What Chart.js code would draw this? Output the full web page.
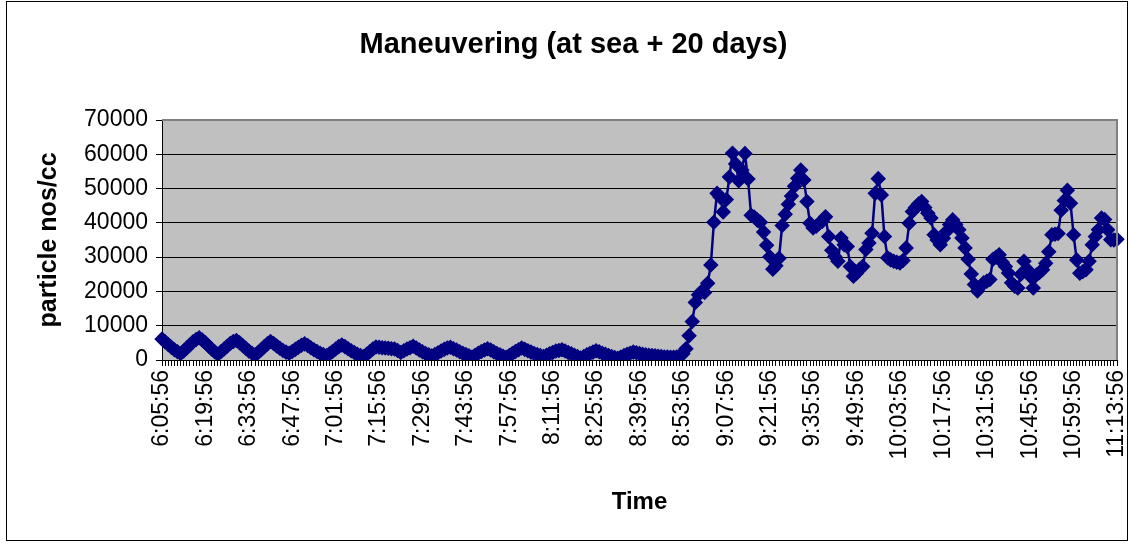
<!DOCTYPE html>
<html>
<head>
<meta charset="utf-8">
<script src="https://cdn.jsdelivr.net/npm/chart.js@4.4.1/dist/chart.umd.min.js"></script>
<style>
  body { margin: 0; background: #fff; }
  #wrap { width: 1132px; height: 544px; }
</style>
</head>
<body>
<div id="wrap"><canvas id="c" width="1132" height="544"></canvas></div>
<script>
// particle counts, one reading per minute from 6:05:56 to 11:13:56
var startTime = '6:05:56';
var particles = [
  6100, 5300, 4500, 3700, 3000, 2400, 1900, 2600, 3500, 4400, 5300, 6000, 6500,
  5800, 5000, 4100, 3200, 2400, 1700, 2400, 3200, 4000, 4800, 5400, 5700,
  5000, 4200, 3400, 2600, 2000, 1500, 2200, 3000, 3900, 4700, 5400,
  4800, 4100, 3400, 2800, 2300, 2000, 2500, 3100, 3700, 4300, 4700,
  4200, 3600, 3000, 2500, 2000, 1600, 1200, 1800, 2500, 3200, 3900, 4400,
  3900, 3300, 2700, 2200, 1700, 1300, 1000, 1700, 2400, 3200, 3800,
  3700, 3600, 3500, 3400, 3300, 3200, 2800, 2200, 2700, 3200, 3600, 4000,
  3500, 2900, 2400, 1900, 1500, 1200, 1600, 2100, 2600, 3100, 3500, 3700,
  3300, 2900, 2400, 2000, 1600, 1200, 900, 1400, 2000, 2500, 2900, 3300,
  2900, 2400, 1900, 1500, 1100, 800, 1300, 1900, 2500, 3000, 3500,
  3100, 2700, 2300, 1900, 1600, 1300, 1000, 1400, 1800, 2200, 2600, 2800, 3000,
  2600, 2200, 1800, 1400, 1000, 600, 1000, 1500, 1900, 2300, 2700,
  2400, 2000, 1700, 1300, 1000, 700, 500, 900, 1300, 1700, 2000, 2300,
  2100, 1900, 1700, 1500, 1400, 1300, 1200, 1100, 1000, 900, 900, 800, 800, 900, 1200,
  1800, 3300, 7100, 11200, 16800, 19000, 20000, 19700, 22400, 27700, 40200, 48600,
  47500, 43200, 46800, 53400, 60300, 57200, 52300, 55400, 60200, 52800, 42200, 41700,
  40800, 40200, 37300, 33500, 30100, 26500, 27500, 29700, 39200, 42500, 45400, 47800,
  50700, 53000, 55400, 52500, 46200, 39900, 38500, 39000, 39900, 40500, 41800, 36000,
  32000, 30200, 28800, 35600, 33600, 33100, 27300, 24400, 25300, 26500, 27300, 32200,
  34100, 37000, 48600, 52900, 48100, 36000, 29800, 29200, 28800, 28500, 28300, 29000,
  32700, 39900, 43300, 44500, 45500, 46200, 44500, 42800, 41400, 36500, 35000, 33600,
  35500, 37500, 39500, 40900, 39500, 38000, 35600, 32700, 29400, 25100, 22000, 20100,
  21500, 22500, 23000, 23500, 29400, 30000, 30700, 28500, 27300, 25400, 22500, 21500,
  21000, 25000, 28800, 26500, 24400, 21000, 24800, 25500, 26300, 28200, 31600, 36500,
  36700, 36900, 43700, 46500, 49500, 45700, 36500, 29200, 25300, 25800, 26300, 28800,
  33600, 36000, 38000, 41400, 41000, 38000, 35100, 35000, 35200
];

// labels that Excel printed under the axis (every 14th minute)
var tickLabels = [
  '6:05:56', '6:19:56', '6:33:56', '6:47:56', '7:01:56', '7:15:56', '7:29:56',
  '7:43:56', '7:57:56', '8:11:56', '8:25:56', '8:39:56', '8:53:56', '9:07:56',
  '9:21:56', '9:35:56', '9:49:56', '10:03:56', '10:17:56', '10:31:56',
  '10:45:56', '10:59:56', '11:13:56'
];
var yTicks = [0, 10000, 20000, 30000, 40000, 50000, 60000, 70000];

// one category per reading, counting minutes from the start time
function buildTimes(start, n) {
  var parts = start.split(':');
  var h = +parts[0], m = +parts[1], s = parts[2];
  var out = [];
  for (var i = 0; i < n; i++) {
    out.push(h + ':' + (m < 10 ? '0' + m : m) + ':' + s);
    m++;
    if (m == 60) { m = 0; h++; }
  }
  return out;
}
var times = buildTimes(startTime, particles.length);

var FONT = "'Liberation Sans', Arial, sans-serif";
var PLOT_LEFT = 162, PLOT_RIGHT = 1117, PLOT_BOTTOM = 360;

// grey plot area and the outer chart frame, Excel style
var frame = {
  id: 'frame',
  beforeDraw: function(chart) {
    var a = chart.chartArea, ctx = chart.ctx;
    ctx.save();
    ctx.fillStyle = '#c0c0c0';
    ctx.fillRect(a.left, a.top, a.right - a.left, a.bottom - a.top);
    ctx.restore();
  },
  afterDraw: function(chart) {
    var a = chart.chartArea, ctx = chart.ctx;
    ctx.save();
    ctx.strokeStyle = '#808080';
    ctx.lineWidth = 2;
    ctx.beginPath();
    ctx.moveTo(a.left, a.top);
    ctx.lineTo(a.right, a.top);
    ctx.lineTo(a.right, a.bottom);
    ctx.stroke();
    ctx.strokeStyle = '#000';
    ctx.lineWidth = 1;
    ctx.strokeRect(6.5, 1.5, 1121, 539);
    ctx.restore();
  }
};

new Chart(document.getElementById('c'), {
  type: 'line',
  data: {
    labels: times,
    datasets: [{
      data: particles,
      borderColor: '#000080',
      backgroundColor: '#000080',
      borderWidth: 2.5,
      pointStyle: 'rectRot',
      pointRadius: 6,
      pointBackgroundColor: '#000080',
      pointBorderColor: '#000080',
      tension: 0
    }]
  },
  options: {
    responsive: false,
    animation: false,
    devicePixelRatio: 1,
    layout: { padding: { left: 30, right: 1132 - PLOT_RIGHT, top: 0, bottom: 23 } },
    plugins: {
      legend: { display: false },
      tooltip: { enabled: false },
      title: {
        display: true,
        text: 'Maneuvering (at sea + 20 days)',
        color: '#000',
        font: { family: FONT, size: 29, weight: 'bold' },
        padding: { top: 27.6, bottom: 57.6 }
      }
    },
    scales: {
      x: {
        offset: false,
        grid: { display: true, drawOnChartArea: false, color: '#000', tickLength: 6 },
        border: { color: '#000', width: 1 },
        ticks: {
          autoSkip: false,
          minRotation: 90,
          maxRotation: 90,
          color: '#000',
          padding: 4,
          font: { family: FONT, size: 23 },
          callback: function(v, i) {
            var t = times[i];
            return tickLabels.indexOf(t) >= 0 ? t : '';
          }
        },
        title: {
          display: true,
          text: 'Time',
          color: '#000',
          font: { family: FONT, size: 24, weight: 'bold' },
          padding: { top: 4, bottom: 4 }
        },
        afterFit: function(scale) {
          scale.height = 521 - PLOT_BOTTOM;
          scale.paddingLeft = 0;
          scale.paddingRight = 0;
        }
      },
      y: {
        min: 0,
        max: 70000,
        afterBuildTicks: function(scale) {
          scale.ticks = yTicks.map(function(v) { return { value: v }; });
        },
        grid: { color: '#000', lineWidth: 1, tickLength: 6 },
        border: { color: '#000', width: 1 },
        ticks: {
          color: '#000',
          padding: 8,
          font: { family: FONT, size: 23 },
          callback: function(v) { return String(v); }
        },
        title: {
          display: true,
          text: 'particle nos/cc',
          color: '#000',
          font: { family: FONT, size: 25, weight: 'bold' },
          padding: { top: 4, bottom: 4 }
        },
        afterFit: function(scale) {
          scale.width = PLOT_LEFT - 30;
          scale.paddingTop = 0;
          scale.paddingBottom = 0;
        }
      }
    }
  },
  plugins: [frame]
});
</script>
</body>
</html>
